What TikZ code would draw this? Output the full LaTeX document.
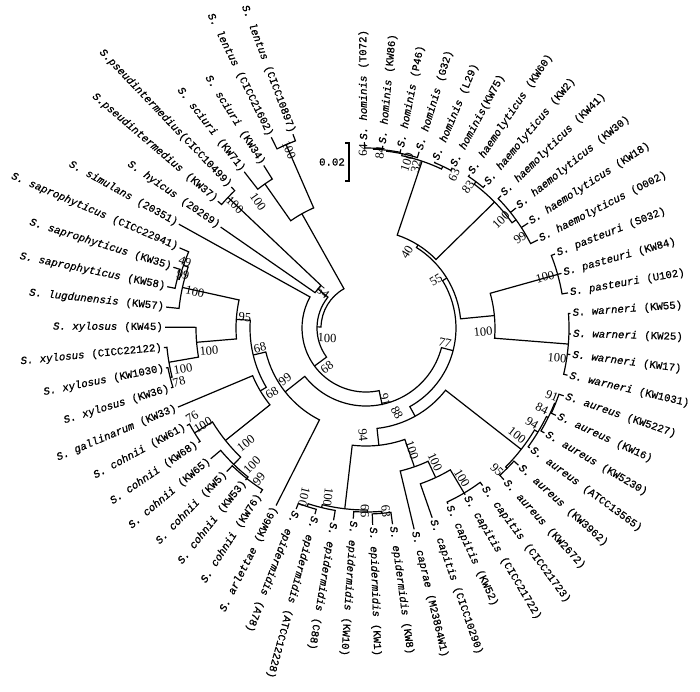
\documentclass[tikz,border=0pt]{standalone}
\usepackage{fontspec}
\setmainfont{Liberation Serif}
\newfontfamily\taxfont{Liberation Mono}[FakeBold=0.7]
\usepackage{tikz}
\newcommand{\taxon}[2]{{\itshape #1}\hspace{7pt}(#2)}

\begin{document}
\begin{tikzpicture}[
  x=1pt,y=1pt,
  branch/.style={line width=1.2pt},
  tx/.style={font=\taxfont\fontsize{10.7}{12}\selectfont,inner sep=1pt},
  txr/.style={tx,anchor=west},
  txl/.style={tx,anchor=east},
  bs/.style={font=\fontsize{12.5}{14}\selectfont,inner sep=0pt}
]
\useasboundingbox (-366,-363) rectangle (334,328);

% leaves, clockwise from the top
\node[txr,rotate=90.5] (h1) at (90.5:187) {\taxon{S. hominis}{T072}};
\node[txr,rotate=84.74] (h2) at (84.74:184) {\taxon{S. hominis}{KW86}};
\node[txr,rotate=78.98] (h3) at (78.98:183) {\taxon{S. hominis}{P46}};
\node[txr,rotate=73.22] (h4) at (73.22:185) {\taxon{S. hominis}{G32}};
\node[txr,rotate=67.46] (h5) at (67.46:181) {\taxon{S. hominis}{L29}};
\node[txr,rotate=61.7] (h6) at (61.7:183) {{\itshape S. hominis}(KW75)};
\node[txr,rotate=55.94] (e1) at (55.94:186) {\taxon{S. haemolyticus}{KW60}};
\node[txr,rotate=50.18] (e2) at (50.18:187) {\taxon{S. haemolyticus}{KW2}};
\node[txr,rotate=44.42] (e3) at (44.42:190) {\taxon{S. haemolyticus}{KW41}};
\node[txr,rotate=38.66] (e4) at (38.66:193) {\taxon{S. haemolyticus}{KW30}};
\node[txr,rotate=32.9] (e5) at (32.9:194) {\taxon{S. haemolyticus}{KW18}};
\node[txr,rotate=27.14] (e6) at (27.14:194) {\taxon{S. haemolyticus}{O002}};
\node[txr,rotate=21.38] (pa1) at (21.38:204) {\taxon{S. pasteuri}{S032}};
\node[txr,rotate=15.62] (pa2) at (15.62:204) {\taxon{S. pasteuri}{KW84}};
\node[txr,rotate=9.86] (pa3) at (9.86:206) {\taxon{S. pasteuri}{U102}};
\node[txr,rotate=4.1] (wa1) at (4.1:206) {\taxon{S. warneri}{KW55}};
\node[txr,rotate=-1.66] (wa2) at (-1.66:206) {\taxon{S. warneri}{KW25}};
\node[txr,rotate=-7.42] (wa3) at (-7.42:207) {\taxon{S. warneri}{KW17}};
\node[txr,rotate=-13.18] (wa4) at (-13.18:208) {\taxon{S. warneri}{KW1031}};
\node[txr,rotate=-18.94] (au1) at (-18.94:210) {\taxon{S. aureus}{KW5227}};
\node[txr,rotate=-24.7] (au2) at (-24.7:210) {\taxon{S. aureus}{KW16}};
\node[txr,rotate=-30.46] (au3) at (-30.46:208) {\taxon{S. aureus}{KW5230}};
\node[txr,rotate=-36.22] (au4) at (-36.22:204) {\taxon{S. aureus}{ATCC13565}};
\node[txr,rotate=-41.98] (au5) at (-41.98:206) {\taxon{S. aureus}{KW3962}};
\node[txr,rotate=-47.74] (au6) at (-47.74:206) {\taxon{S. aureus}{KW2672}};
\node[txr,rotate=-53.5] (ca1) at (-53.5:197) {\taxon{S. capitis}{CICC21723}};
\node[txr,rotate=-59.26] (ca2) at (-59.26:195) {\taxon{S. capitis}{CICC21722}};
\node[txr,rotate=-65.02] (ca3) at (-65.02:195) {\taxon{S. capitis}{KW52}};
\node[txr,rotate=-70.78] (ca4) at (-70.78:202) {\taxon{S. capitis}{CICC10290}};
\node[txr,rotate=-76.54] (cp) at (-76.54:208) {\taxon{S. caprae}{M23864W1}};
\node[txr,rotate=-82.3] (ep1) at (-82.3:199) {\taxon{S. epidermidis}{KW8}};
\node[txr,rotate=-88.06] (ep2) at (-88.06:198) {\taxon{S. epidermidis}{KW1}};
\node[txr,rotate=-93.82] (ep3) at (-93.82:192) {\taxon{S. epidermidis}{KW10}};
\node[txr,rotate=-99.58] (ep4) at (-99.58:196) {\taxon{S. epidermidis}{C88}};
\node[txr,rotate=-105.34] (ep5) at (-105.34:194) {\taxon{S. epidermidis}{ATCC12228}};
\node[txr,rotate=-111.1] (ep6) at (-111.1:195) {\taxon{S. epidermidis}{A78}};
\node[txl,rotate=63.14] (ar) at (-116.86:200) {\taxon{S. arlettae}{KW66}};
\node[txl,rotate=57.38] (co1) at (-122.62:197) {\taxon{S. cohnii}{KW76}};
\node[txl,rotate=51.62] (co2) at (-128.38:195) {\taxon{S. cohnii}{KW53}};
\node[txl,rotate=45.86] (co3) at (-134.14:201) {\taxon{S. cohnii}{KW5}};
\node[txl,rotate=40.1] (co4) at (-139.9:204) {\taxon{S. cohnii}{KW65}};
\node[txl,rotate=34.34] (co5) at (-145.66:204) {\taxon{S. cohnii}{KW68}};
\node[txl,rotate=28.58] (co6) at (-151.42:205) {\taxon{S. cohnii}{KW61}};
\node[txl,rotate=22.82] (ga) at (-157.18:205) {\taxon{S. gallinarum}{KW33}};
\node[txl,rotate=17.06] (xy1) at (-162.94:205) {\taxon{S. xylosus}{KW36}};
\node[txl,rotate=11.3] (xy2) at (-168.7:205) {\taxon{S. xylosus}{KW1030}};
\node[txl,rotate=5.54] (xy3) at (-174.46:204) {\taxon{S. xylosus}{CICC22122}};
\node[txl,rotate=-0.22] (xy4) at (-180.22:202) {\taxon{S. xylosus}{KW45}};
\node[txl,rotate=-5.98] (lu) at (-185.98:202) {\taxon{S. lugdunensis}{KW57}};
\node[txl,rotate=-11.74] (sa1) at (-191.74:204) {\taxon{S. saprophyticus}{KW58}};
\node[txl,rotate=-17.5] (sa2) at (-197.5:203) {\taxon{S. saprophyticus}{KW35}};
\node[txl,rotate=-23.26] (sa3) at (-203.26:204) {\taxon{S. saprophyticus}{CICC22941}};
\node[txl,rotate=-29.02] (si) at (-209.02:215) {\taxon{S. simulans}{20351}};
\node[txl,rotate=-34.78] (hy) at (-214.78:178) {\taxon{S. hyicus}{20269}};
\node[txl,rotate=-40.54] (ps1) at (-220.54:196) {\taxon{S.pseudintermedius}{KW37}};
\node[txl,rotate=-46.3] (ps2) at (-226.3:196) {{\itshape S.pseudintermedius}(CICC10499)};
\node[txl,rotate=-52.06] (sc1) at (-232.06:199) {\taxon{S. sciuri}{KW71}};
\node[txl,rotate=-57.82] (sc2) at (-237.82:193) {\taxon{S. sciuri}{KW34}};
\node[txl,rotate=-63.58] (le1) at (-243.58:214) {\taxon{S. lentus}{CICC21602}};
\node[txl,rotate=-69.34] (le2) at (-249.34:208) {\taxon{S. lentus}{CICC10897}};

% branches: radial lines and arcs
\draw[branch] (90.5:186) -- (90.5:180) arc[start angle=90.5,end angle=84.74,radius=180pt] -- (84.74:183);
\draw[branch] (87.62:180) -- (87.62:179) arc[start angle=87.62,end angle=78.98,radius=179pt] -- (78.98:182);
\draw[branch] (83.3:179) -- (83.3:178) arc[start angle=83.3,end angle=73.22,radius=178pt] -- (73.22:184);
\draw[branch] (67.46:180) -- (67.46:179) arc[start angle=67.46,end angle=61.7,radius=179pt] -- (61.7:182);
\draw[branch] (78.26:178) -- (78.26:176) arc[start angle=78.26,end angle=64.58,radius=176pt] -- (64.58:179);
\draw[branch] (55.94:185) -- (55.94:183) arc[start angle=55.94,end angle=50.18,radius=183pt] -- (50.18:186);
\draw[branch] (44.42:189) -- (44.42:185) arc[start angle=44.42,end angle=27.14,radius=185pt] -- (27.14:193)
  (38.66:185) -- (38.66:192) (32.9:185) -- (32.9:193);
\draw[branch] (53.06:183) -- (53.06:180) arc[start angle=53.06,end angle=35.78,radius=180pt] -- (35.78:185);
\draw[branch] (71.42:176) -- (71.42:98) arc[start angle=71.42,end angle=44.42,radius=98pt] -- (44.42:180);
\draw[branch] (21.38:203) -- (21.38:199) arc[start angle=21.38,end angle=9.86,radius=199pt] -- (9.86:205)
  (15.62:199) -- (15.62:203);
\draw[branch] (4.1:205) -- (4.1:203) arc[start angle=4.1,end angle=-13.18,radius=203pt] -- (-13.18:207)
  (-1.66:203) -- (-1.66:205) (-7.42:203) -- (-7.42:206);
\draw[branch] (15.62:199) -- (15.62:129) arc[start angle=15.62,end angle=-4.54,radius=129pt] -- (-4.54:203);
\draw[branch] (57.92:98) -- (57.92:95) arc[start angle=57.92,end angle=5.54,radius=95pt] -- (5.54:129);
\draw[branch] (-18.94:209) -- (-18.94:204) arc[start angle=-18.94,end angle=-24.7,radius=204pt] -- (-24.7:209);
\draw[branch] (-21.82:204) -- (-21.82:203) arc[start angle=-21.82,end angle=-30.46,radius=203pt] -- (-30.46:207);
\draw[branch] (-26.14:203) -- (-26.14:201) arc[start angle=-26.14,end angle=-36.22,radius=201pt] -- (-36.22:203);
\draw[branch] (-41.98:205) -- (-41.98:199) arc[start angle=-41.98,end angle=-47.74,radius=199pt] -- (-47.74:205);
\draw[branch] (-31.18:201) -- (-31.18:197) arc[start angle=-31.18,end angle=-44.86,radius=197pt] -- (-44.86:199);
\draw[branch] (-53.5:196) -- (-53.5:192) arc[start angle=-53.5,end angle=-65.02,radius=192pt] -- (-65.02:194)
  (-59.26:192) -- (-59.26:194);
\draw[branch] (-59.26:192) -- (-59.26:165) arc[start angle=-59.26,end angle=-70.78,radius=165pt] -- (-70.78:201);
\draw[branch] (-65.02:165) -- (-65.02:147) arc[start angle=-65.02,end angle=-76.54,radius=147pt] -- (-76.54:207);
\draw[branch] (-82.3:198) -- (-82.3:186) arc[start angle=-82.3,end angle=-88.06,radius=186pt] -- (-88.06:197);
\draw[branch] (-85.18:186) -- (-85.18:184) arc[start angle=-85.18,end angle=-93.82,radius=184pt] -- (-93.82:191);
\draw[branch] (-105.34:193) -- (-105.34:188) arc[start angle=-105.34,end angle=-111.1,radius=188pt] -- (-111.1:194);
\draw[branch] (-99.58:195) -- (-99.58:185) arc[start angle=-99.58,end angle=-108.22,radius=185pt] -- (-108.22:188);
\draw[branch] (-89.5:184) -- (-89.5:182) arc[start angle=-89.5,end angle=-103.9,radius=182pt] -- (-103.9:185);
\draw[branch] (-70.78:147) -- (-70.78:118) arc[start angle=-70.78,end angle=-96.7,radius=118pt] -- (-96.7:182);
\draw[branch] (-38.02:197) -- (-38.02:101) arc[start angle=-38.02,end angle=-83.74,radius=101pt] -- (-83.74:118);
\draw[branch] (31.73:95) -- (31.73:90) arc[start angle=31.73,end angle=-60.88,radius=90pt] -- (-60.88:101);
\draw[branch] (-145.66:203) -- (-145.66:201) arc[start angle=-145.66,end angle=-151.42,radius=201pt] -- (-151.42:204);
\draw[branch] (-122.62:196) -- (-122.62:192) arc[start angle=-122.62,end angle=-134.14,radius=192pt] -- (-134.14:200)
  (-128.38:192) -- (-128.38:194);
\draw[branch] (-128.38:192) -- (-128.38:190) arc[start angle=-128.38,end angle=-139.9,radius=190pt] -- (-139.9:203);
\draw[branch] (-134.14:190) -- (-134.14:180) arc[start angle=-134.14,end angle=-148.54,radius=180pt] -- (-148.54:201);
\draw[branch] (-141.34:180) -- (-141.34:123) arc[start angle=-141.34,end angle=-157.18,radius=123pt] -- (-157.18:204);
\draw[branch] (-162.94:204) -- (-162.94:202) arc[start angle=-162.94,end angle=-168.7,radius=202pt] -- (-168.7:204);
\draw[branch] (-165.82:202) -- (-165.82:200) arc[start angle=-165.82,end angle=-174.46,radius=200pt] -- (-174.46:203);
\draw[branch] (-170.14:200) -- (-170.14:170) arc[start angle=-170.14,end angle=-180.22,radius=170pt] -- (-180.22:201);
\draw[branch] (-191.74:203) -- (-191.74:195) arc[start angle=-191.74,end angle=-197.5,radius=195pt] -- (-197.5:202);
\draw[branch] (-194.62:195) -- (-194.62:193) arc[start angle=-194.62,end angle=-203.26,radius=193pt] -- (-203.26:203);
\draw[branch] (-185.98:201) -- (-185.98:188) arc[start angle=-185.98,end angle=-198.94,radius=188pt] -- (-198.94:193);
\draw[branch] (-175.18:170) -- (-175.18:130) arc[start angle=-175.18,end angle=-192.46,radius=130pt] -- (-192.46:188);
\draw[branch] (-149.26:123) -- (-149.26:116) arc[start angle=-149.26,end angle=-183.82,radius=116pt] -- (-183.82:130);
\draw[branch] (-116.86:199) -- (-116.86:103) arc[start angle=-116.86,end angle=-166.54,radius=103pt] -- (-166.54:116);
\draw[branch] (-14.58:90) -- (-14.58:78) arc[start angle=-14.58,end angle=-141.7,radius=78pt] -- (-141.7:103);
\draw[branch] (-78.14:78) -- (-78.14:64) arc[start angle=-78.14,end angle=-209.02,radius=64pt] -- (-209.02:214);
\draw[branch] (-220.54:195) -- (-220.54:190) arc[start angle=-220.54,end angle=-226.3,radius=190pt] -- (-226.3:195);
\draw[branch] (-214.78:177) -- (-214.78:62) arc[start angle=-214.78,end angle=-223.42,radius=62pt] -- (-223.42:190);
\draw[branch] (-143.58:64) -- (-143.58:49) arc[start angle=-143.58,end angle=-219.1,radius=49pt] -- (-219.1:62);
\draw[branch] (-232.06:198) -- (-232.06:176) arc[start angle=-232.06,end angle=-237.82,radius=176pt] -- (-237.82:192);
\draw[branch] (-243.58:213) -- (-243.58:200) arc[start angle=-243.58,end angle=-249.34,radius=200pt] -- (-249.34:207);
\draw[branch] (-234.94:176) -- (-234.94:131) arc[start angle=-234.94,end angle=-246.46,radius=131pt] -- (-246.46:200);
\draw[branch] (-181.34:49) -- (-181.34:45) arc[start angle=-181.34,end angle=-240.7,radius=45pt] -- (-240.7:131);

% bootstrap values
\node[bs,rotate=87.62] (b1) at (-3,178) {64};
\node[bs,rotate=83.3] (b2) at (14,175) {84};
\node[bs,rotate=71.42] (b3) at (41,166) {100};
\node[bs,rotate=78.26] (b4) at (50,161) {32};
\node[bs,rotate=64.58] (b5) at (88,153) {63};
\node[bs,rotate=53.06] (b6) at (102,141) {83};
\node[bs,rotate=44.42] (b7) at (135,108) {100};
\node[bs,rotate=35.78] (b8) at (154,90) {99};
\node[bs,rotate=57.92] (b9) at (41,76) {40};
\node[bs,rotate=31.73] (b10) at (70,48) {55};
\node[bs,rotate=5.54] (b11) at (117,-4) {100};
\node[bs,rotate=15.62] (b12) at (179,51) {100};
\node[bs,rotate=-4.54] (b13) at (191,-30) {100};
\node[bs,rotate=-14.58] (b14) at (79,-15) {77};
\node[bs,rotate=-78.14] (b15) at (19,-72) {91};
\node[bs,rotate=-60.88] (b16) at (31,-85) {88};
\node[bs,rotate=-83.74] (b17) at (-3,-107) {94};
\node[bs,rotate=-21.82] (b18) at (186,-68) {91};
\node[bs,rotate=-26.14] (b19) at (176,-81) {84};
\node[bs,rotate=-31.18] (b20) at (166,-95) {94};
\node[bs,rotate=-38.02] (b21) at (151,-107) {100};
\node[bs,rotate=-44.86] (b22) at (131,-142) {95};
\node[bs,rotate=-70.78] (b23) at (46,-122) {100};
\node[bs,rotate=-65.02] (b24) at (69,-134) {100};
\node[bs,rotate=-59.26] (b25) at (96,-150) {100};
\node[bs,rotate=-85.18] (b26) at (20,-183) {63};
\node[bs,rotate=-89.5] (b27) at (-1,-183) {66};
\node[bs,rotate=-96.7] (b28) at (-38,-169) {100};
\node[bs,rotate=-103.9] (b29) at (-62,-169) {100};
\node[bs,rotate=38.3] (b30) at (-81,-51) {99};
\node[bs,rotate=30.74] (b31) at (-94,-65) {68};
\node[bs,rotate=13.46] (b32) at (-106,-20) {68};
\node[bs,rotate=-3.82] (b33) at (-121,11) {95};
\node[bs,rotate=36.42] (b34) at (-39,-39) {68};
\node[bs,rotate=-1.34] (b35) at (-39,-10) {100};
\node[bs,rotate=-39.1] (b36) at (-43,36) {54};
\node[bs,rotate=4.82] (b37) at (-157,-23) {100};
\node[bs,rotate=9.86] (b38) at (-183,-41) {100};
\node[bs,rotate=14.18] (b39) at (-187,-54) {78};
\node[bs,rotate=-18.94] (b40) at (-181,66) {49};
\node[bs,rotate=-14.62] (b41) at (-183,53) {99};
\node[bs,rotate=-12.46] (b42) at (-171,36) {100};
\node[bs,rotate=31.46] (b43) at (-174,-89) {76};
\node[bs,rotate=31.46] (b44) at (-163,-97) {100};
\node[bs,rotate=38.66] (b45) at (-120,-115) {100};
\node[bs,rotate=45.86] (b46) at (-114,-137) {100};
\node[bs,rotate=51.62] (b47) at (-107,-151) {99};
\node[bs,rotate=-66.46] (b48) at (-77,178) {100};
\node[bs,rotate=-54.94] (b49) at (-108,126) {100};
\node[bs,rotate=-43.42] (b50) at (-131,123) {100};

% scale bar
\draw[branch] (-21,185) -- (-17,185) -- (-17,147) -- (-21,147);
\node[tx,anchor=east] (scale) at (-20,166) {0.02};
\end{tikzpicture}
\end{document}
